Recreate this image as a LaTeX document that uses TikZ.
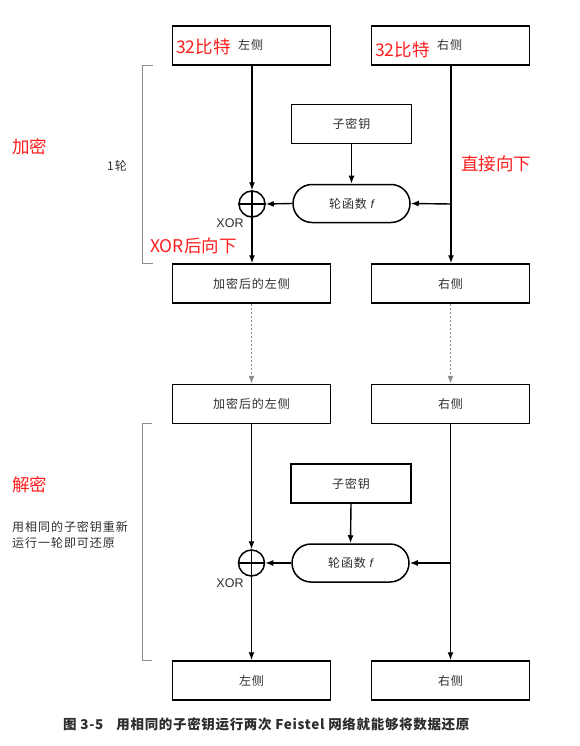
\documentclass[tikz,border=0pt]{standalone}
\usepackage{fontspec}
\setmainfont{Noto Sans CJK SC}
\newfontfamily\spaced[LetterSpace=8]{Noto Sans CJK SC}
\newfontfamily\capfont[LetterSpace=5]{Noto Sans CJK SC}
\newfontfamily\latinfont{Liberation Sans}
\usetikzlibrary{arrows.meta,shapes.misc}
\definecolor{redtxt}{RGB}{255,30,30}
\definecolor{txt}{RGB}{45,45,45}
\definecolor{brk}{RGB}{140,140,140}
\tikzset{
  bodyfont/.style={font=\spaced\fontsize{12}{13}\selectfont},
  blk/.style={draw=black,line width=1.5pt,minimum width=158pt,minimum height=39pt,inner sep=0pt,bodyfont,text=txt},
  keybox/.style={draw=black,line width=1.5pt,minimum width=120pt,minimum height=39pt,inner sep=0pt,bodyfont,text=txt},
  fbox/.style={draw=black,line width=1.5pt,rounded rectangle,minimum width=117pt,minimum height=38pt,inner sep=0pt,bodyfont,text=txt},
  xorc/.style={draw=black,line width=1.5pt,circle,minimum size=26pt,inner sep=0pt},
  conn/.style={line width=1.4pt,-{Latex[length=8pt,width=6pt]}},
  dconn/.style={line width=1.2pt,brk,dash pattern=on 2.5pt off 1.5pt,-{Latex[length=8pt,width=6pt]}},
  redlab/.style={text=redtxt,font=\fontsize{17.5}{19}\selectfont,inner sep=0pt},
  graylab/.style={text=txt,bodyfont,inner sep=0pt},
  xorlab/.style={text=txt,font=\latinfont\fontsize{12.5}{13}\selectfont,inner sep=0pt},
  brack/.style={brk,line width=1pt},
}
\begin{document}
\begin{tikzpicture}[x=1pt,y=-1pt]
\useasboundingbox (0,0) rectangle (580,746);
% top boxes
\node[blk] (tl) at (251.5,45.5) {};
\node[blk] (tr) at (450.5,45.5) {};
\node[redlab,anchor=west] (tl32) at (176,47) {32比特};
\node[graylab,anchor=west] (tllab) at (238,45) {左侧};
\node[redlab,anchor=west] (tr32) at (375,50) {32比特};
\node[graylab,anchor=west] (trlab) at (437,45) {右侧};
% round 1
\node[keybox] (k1) at (351.5,124) {子密钥};
\node[fbox] (f1) at (351.5,203.5) {轮函数 {\latinfont\itshape f}};
\node[xorc] (x1) at (252,204) {};
\draw[line width=1.5pt] (x1.north) -- (x1.south) (x1.west) -- (x1.east);
\node[xorlab] (xor1) at (230,223) {XOR};
\node[blk] (ml1) at (251.5,283.5) {加密后的左侧};
\node[blk] (mr1) at (450.5,283.5) {右侧};
\coordinate (br1) at (451,204);
\draw[conn] (tl.south -| x1) -- (x1.north);
\draw[conn] (x1.south) -- (ml1.north -| x1);
\draw[conn] (tr.south -| br1) -- (mr1.north -| br1);
\draw[conn] (br1) -- (f1.east);
\draw[conn] (f1.west) -- (x1.east);
\draw[conn] (k1.south) -- (f1.north);
% labels
\node[redlab,anchor=west] (zj) at (461,164) {直接向下};
\node[redlab,anchor=west] (xorx) at (150,246) {XOR后向下};
\node[graylab] (r1) at (117,166) {1轮};
\node[redlab,anchor=west] (jm) at (12,147) {加密};
\draw[brack] (153,66) -- (142,66) -- (142,263) -- (153,263);
% second pair
\node[blk] (ml2) at (251.5,404) {加密后的左侧};
\node[blk] (mr2) at (450.5,404) {右侧};
\draw[dconn] (ml1.south) -- (ml2.north);
\draw[dconn] (mr1.south) -- (mr2.north);
% round 2
\node[keybox] (k2) at (351,483.5) {子密钥};
\node[fbox] (f2) at (350.5,563) {轮函数 {\latinfont\itshape f}};
\node[xorc] (x2) at (251.5,563) {};
\draw[line width=1.5pt] (x2.north) -- (x2.south) (x2.west) -- (x2.east);
\node[xorlab] (xor2) at (230,583) {XOR};
\node[blk] (bl) at (251.5,680.5) {左侧};
\node[blk] (brr) at (450.5,680.5) {右侧};
\coordinate (br2) at (450.5,563);
\draw[conn] (ml2.south -| x2) -- (x2.north);
\draw[conn] (x2.south) -- (bl.north -| x2);
\draw[conn] (mr2.south -| br2) -- (brr.north -| br2);
\draw[conn] (br2) -- (f2.east);
\draw[conn] (f2.west) -- (x2.east);
\draw[conn] (k2.south) -- (f2.north);
\node[redlab,anchor=west] (jiem) at (12,485) {解密};
\node[graylab,anchor=west,align=left] (desc) at (12,535) {用相同的子密钥重新\\[3pt]运行一轮即可还原};
\draw[brack] (152,423) -- (142,423) -- (142,660) -- (152,660);
% caption
\node[anchor=west,inner sep=0pt,font=\capfont\fontsize{13.5}{14}\selectfont\bfseries,text=txt] (cap) at (63,724) {图 3-5\hspace{13pt}用相同的子密钥运行两次 Feistel 网络就能够将数据还原};
\end{tikzpicture}
\end{document}
